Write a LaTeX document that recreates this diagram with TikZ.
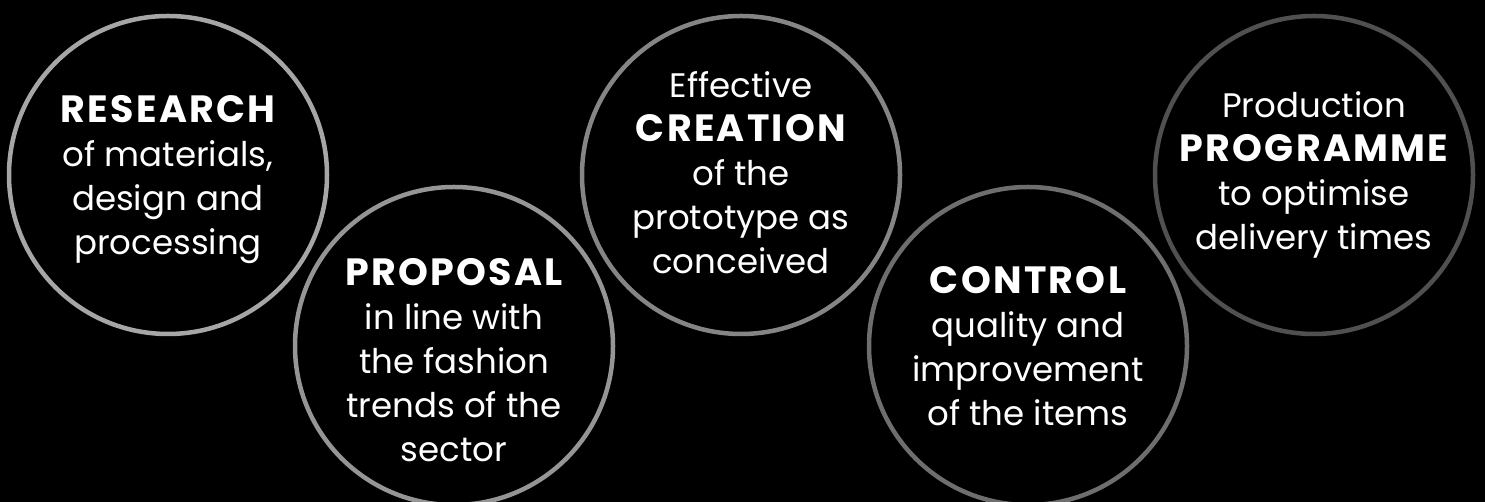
\documentclass[tikz,border=0pt]{standalone}
\usepackage{fontspec}
\setmainfont{Poppins}
\newfontfamily\headfont{Poppins}[LetterSpace=6]
\newcommand{\hd}[1]{{\headfont\bfseries\fontsize{38}{44}\selectfont #1}}
\begin{document}
\begin{tikzpicture}[x=1pt,y=1pt]
\definecolor{ca}{HTML}{A6A6A6}
\definecolor{cb}{HTML}{959595}
\definecolor{cc}{HTML}{858585}
\definecolor{cd}{HTML}{6E6E6E}
\definecolor{ce}{HTML}{505050}
\tikzset{
  ring/.style={circle, draw=#1, line width=4.5pt, minimum size=318pt, inner sep=0pt, fill=black},
  label/.style={text=white, align=center, font=\fontsize{34}{44}\selectfont}
}
\fill[black] (0,0) rectangle (1485,502);
\useasboundingbox (0,0) rectangle (1485,502);
\node[ring=ca] (c1) at (168,327) {};
\node[ring=cb] (c2) at (454,156) {};
\node[ring=cc] (c3) at (741,327) {};
\node[ring=cd] (c4) at (1028,156) {};
\node[ring=ce] (c5) at (1314,327) {};
\node[label] (t1) at (168,322) {\hd{RESEARCH}\\of materials,\\design and\\processing};
\node[label] (t2) at (454,142) {\hd{PROPOSAL}\\in line with\\the fashion\\trends of the\\sector};
\node[label] (t3) at (741,329) {Effective\\\hd{CREATION}\\of the\\prototype as\\conceived};
\node[label] (t4) at (1028,156) {\hd{CONTROL}\\quality and\\improvement\\of the items};
\node[label] (t5) at (1314,327) {Production\\\hd{PROGRAMME}\\to optimise\\delivery times};
\end{tikzpicture}
\end{document}
